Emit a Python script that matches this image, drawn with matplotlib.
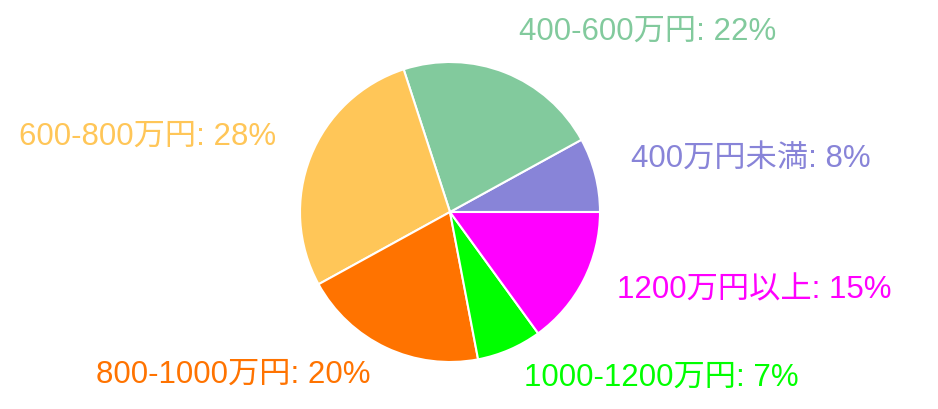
import numpy as np
import matplotlib
matplotlib.use("Agg")
import matplotlib.pyplot as plt

plt.rcParams['font.family'] = ['Liberation Sans', 'Noto Sans CJK JP', 'DejaVu Sans']

categories = ['400万円未満', '400-600万円', '600-800万円', '800-1000万円', '1000-1200万円', '1200万円以上']
values = [8, 22, 28, 20, 7, 15]
colors = ['#8884d8', '#82ca9d', '#ffc658', '#ff7300', '#00ff00', '#ff00ff']

W, H = 938, 410
fig = plt.figure(figsize=(W / 100, H / 100), dpi=100)
ax = fig.add_axes([0, 0, 1, 1])

cx, cy, R = 450, H - 213, 150
wedges, _ = ax.pie(values, colors=colors, startangle=0, counterclock=True,
                   center=(cx, cy), radius=R, frame=True,
                   wedgeprops=dict(edgecolor='white', linewidth=1.5))
ax.set_xlim(0, W)
ax.set_ylim(0, H)
ax.set_aspect('auto')
ax.axis('off')

total = sum(values)
start = 0.0
rl = 187
for cat, v, c in zip(categories, values, colors):
    mid = np.deg2rad(start + 360 * v / total / 2)
    start += 360 * v / total
    x = cx + rl * np.cos(mid)
    y = cy + rl * np.sin(mid) + 7
    ha = 'left' if np.cos(mid) > 0 else 'right'
    ax.text(x, y, f'{cat}: {v}%', color=c, fontsize=22.5, ha=ha, va='center')

fig.savefig('out.png', dpi=100)
